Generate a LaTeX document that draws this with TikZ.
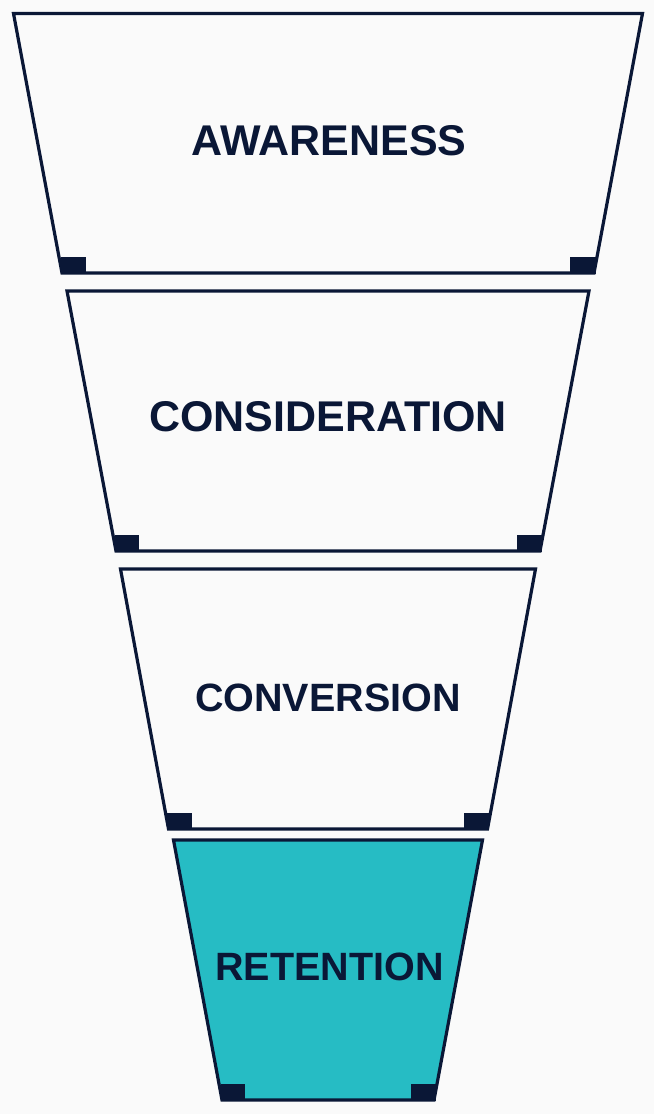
\documentclass[tikz,border=0pt]{standalone}
\usepackage{fontspec}
\setmainfont{Liberation Sans}
\definecolor{navy}{HTML}{0A1736}
\definecolor{teal}{HTML}{26BCC4}
\definecolor{bg}{HTML}{FAFAFA}
\tikzset{
  stage/.style={draw=navy, line width=3.2pt, line join=miter, fill=bg},
  stagefill/.style={draw=navy, line width=3.2pt, line join=miter, fill=teal},
  corner/.style={fill=navy},
  label/.style={text=navy, font=\bfseries, inner sep=0pt, anchor=center}
}
\begin{document}
\begin{tikzpicture}[x=1pt,y=-1pt]
\fill[bg] (0,0) rectangle (654,1114);
\useasboundingbox (0,0) rectangle (654,1114);
\def\cx{328}
% stage 1
\draw[stage] (\cx-314.5,13.5) -- (\cx+314.5,13.5) -- (\cx+266,273) -- (\cx-266,273) -- cycle;
\fill[corner] (\cx-267.5,274) rectangle (\cx-242,257);
\fill[corner] (\cx+267.5,274) rectangle (\cx+242,257);
\node[label, font=\bfseries\fontsize{43}{48}\selectfont] (awareness) at (\cx+1,140.5) {AWARENESS};
% stage 2
\draw[stage] (\cx-261,291) -- (\cx+261,291) -- (\cx+212,551) -- (\cx-212,551) -- cycle;
\fill[corner] (\cx-213.5,552) rectangle (\cx-189,535);
\fill[corner] (\cx+213.5,552) rectangle (\cx+189,535);
\node[label, font=\bfseries\fontsize{43}{48}\selectfont] (consideration) at (\cx,416.5) {CONSIDERATION};
% stage 3
\draw[stage] (\cx-207.5,569) -- (\cx+207.5,569) -- (\cx+159.5,829) -- (\cx-159.5,829) -- cycle;
\fill[corner] (\cx-161,830) rectangle (\cx-136,813);
\fill[corner] (\cx+161,830) rectangle (\cx+136,813);
\node[label, font=\bfseries\fontsize{39.5}{44}\selectfont] (conversion) at (\cx,698) {CONVERSION};
% stage 4
\draw[stagefill] (\cx-154.5,840) -- (\cx+154.5,840) -- (\cx+106,1100) -- (\cx-106,1100) -- cycle;
\fill[corner] (\cx-107.5,1101) rectangle (\cx-83,1084);
\fill[corner] (\cx+107.5,1101) rectangle (\cx+83,1084);
\node[label, font=\bfseries\fontsize{39.5}{45}\selectfont] (retention) at (\cx+1.5,967) {RETENTION};
\end{tikzpicture}
\end{document}
